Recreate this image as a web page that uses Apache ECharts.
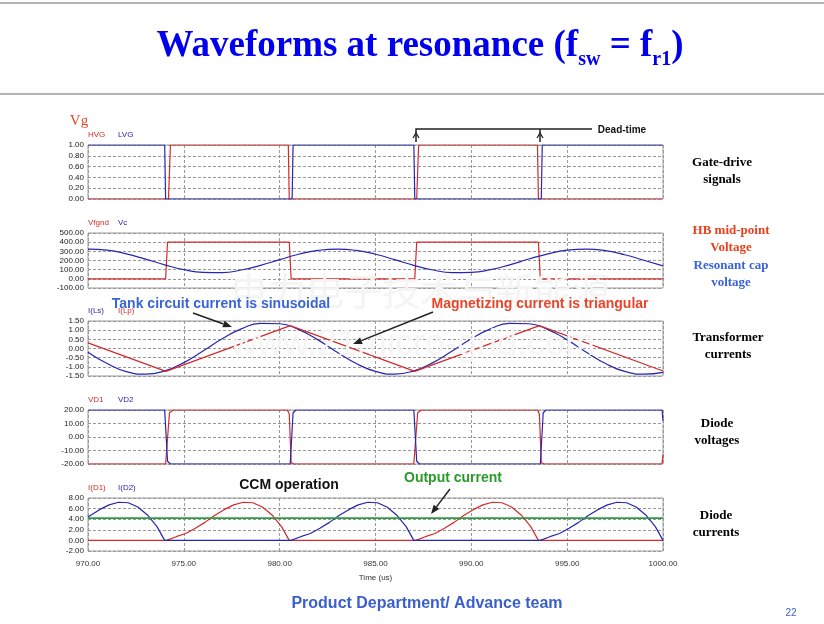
<!DOCTYPE html>
<html><head><meta charset="utf-8">
<script src="https://cdn.jsdelivr.net/npm/echarts/dist/echarts.min.js"></script>
<style>html,body{margin:0;padding:0;background:#fff}#c{width:824px;height:624px}</style>
</head><body><div id="c"></div>
<script>
// ---------- data ----------
const timeRange = [970, 1000];
const timeTicks = [970, 975, 980, 985, 990, 995, 1000];

// Gate-drive signals
const hvg = [[970,0],[974.2,0],[974.3,1],[980.45,1],[980.5,0],[987.15,0],[987.25,1],[993.45,1],[993.5,0],[1000,0]];
const lvg = [[970,1],[974.0,1],[974.05,0],[980.65,0],[980.7,1],[987.0,1],[987.05,0],[993.65,0],[993.7,1],[1000,1]];

// HB mid-point voltage and resonant cap voltage
const vfgnd = [[970,0],[974.05,0],[974.15,400],[980.5,400],[980.6,0],[987.05,0],[987.15,400],[993.5,400],[993.6,0],[1000,0]];
const sineTime = [970,971,972,973,974,975,976,977,978,979,980,981,982,983,984,985,986,987,988,989,990,991,992,993,994,995,996,997,998,999,1000];
const vc = [325,313,273,215,153,100,70,68,96,147,209,268,310,325,310,268,209,147,96,68,70,100,153,216,273,313,325,307,263,203,141];

// Transformer currents
const iLs = [-0.20,-0.82,-1.26,-1.40,-1.22,-0.77,-0.14,0.53,1.07,1.37,1.35,1.03,0.47,-0.20,-0.82,-1.25,-1.40,-1.22,-0.77,-0.14,0.53,1.07,1.37,1.35,1.03,0.47,-0.20,-0.82,-1.25,-1.40,-1.30];
const iLp = [[970,0.31],[974.07,-1.25],[980.55,1.25],[987.05,-1.25],[993.55,1.25],[1000,-1.23]];

// Diode voltages
const vd1 = [[970,-20],[974.05,-20],[974.25,18],[974.45,20],[980.4,20],[980.5,17],[980.6,-19],[980.75,-20],[987.0,-20],[987.2,18],[987.4,20],[993.45,20],[993.55,17],[993.65,-19],[993.8,-20],[999.95,-20],[1000,-13]];
const vd2 = [[970,20],[974.0,20],[974.15,-18],[974.3,-20],[980.55,-20],[980.7,18],[980.85,20],[987.0,20],[987.15,-18],[987.3,-20],[993.6,-20],[993.75,18],[993.9,20],[999.95,20],[1000,12]];

// Diode currents
const iD1 = [[970,0],[974.1,0],[974.6,0.7],[975.1,1.3],[975.6,2.3],[976.1,3.4],[976.6,4.7],[977.1,5.8],[977.6,6.7],[978.1,7.2],[978.6,7.1],[979.1,6.3],[979.6,4.8],[980.1,2.6],[980.5,0],
  [987.1,0],[987.6,0.7],[988.1,1.3],[988.6,2.3],[989.1,3.4],[989.6,4.7],[990.1,5.8],[990.6,6.7],[991.1,7.2],[991.6,7.1],[992.1,6.3],[992.6,4.8],[993.1,2.6],[993.5,0],[1000,0]];
const iD2 = [[970,4.4],[970.1,4.7],[970.6,5.8],[971.1,6.7],[971.6,7.2],[972.1,7.1],[972.6,6.3],[973.1,4.8],[973.6,2.6],[974.0,0],
  [980.6,0],[981.1,0.7],[981.6,1.3],[982.1,2.3],[982.6,3.4],[983.1,4.7],[983.6,5.8],[984.1,6.7],[984.6,7.2],[985.1,7.1],[985.6,6.3],[986.1,4.8],[986.6,2.6],[987.0,0],
  [993.6,0],[994.1,0.7],[994.6,1.3],[995.1,2.3],[995.6,3.4],[996.1,4.7],[996.6,5.8],[997.1,6.7],[997.6,7.2],[998.1,7.1],[998.6,6.3],[999.1,4.8],[999.6,2.6],[1000,0]];
const iOut = [[970,4.2],[1000,4.2]];

// Axis ranges per panel [min, max, interval]
const yRanges = [[0,1,0.2],[-100,500,100],[-1.5,1.5,0.5],[-20,20,10],[-2,8,2]];
const legendNames = [["HVG","LVG"],["Vfgnd","Vc"],["I(Ls)","I(Lp)"],["VD1","VD2"],["I(D1)","I(D2)"]];

// ---------- styling ----------
const RED = '#d42a2a', BLUE = '#2626b4', GREEN = '#2f9a44';
const legendColors = [[RED,BLUE],[RED,BLUE],[BLUE,RED],[RED,BLUE],[RED,BLUE]];
const panels = [{top:145,h:54},{top:233,h:55},{top:321,h:55},{top:410,h:54},{top:498,h:53}];
const LEFT = 88, RIGHT = 161;

const grids = panels.map(p => ({left:LEFT, right:RIGHT, top:p.top, height:p.h, show:true, borderColor:'#9a9a9a', borderWidth:1, backgroundColor:'rgba(0,0,0,0)'}));
const dashed = {show:true, lineStyle:{color:'#999', type:[3,2], width:1}};
const xAxes = panels.map((p,i) => ({
  type:'value', gridIndex:i, min:timeRange[0], max:timeRange[1], interval:5,
  axisLine:{show:false}, axisTick:{show:false}, splitLine:dashed,
  axisLabel:{show:i===4, fontSize:8, color:'#333', fontFamily:'Liberation Sans', margin:9, formatter:v=>v.toFixed(2)},
  name: i===4 ? 'Time (us)' : '', nameLocation:'middle', nameGap:23,
  nameTextStyle:{fontSize:8, color:'#333', fontFamily:'Liberation Sans'}
}));
const yAxes = yRanges.map((r,i) => ({
  type:'value', gridIndex:i, min:r[0], max:r[1], interval:r[2],
  axisLine:{show:false}, axisTick:{show:false}, splitLine:dashed,
  axisLabel:{fontSize:8, color:'#222', fontFamily:'Liberation Sans', margin:4, formatter:v=>v.toFixed(2)}
}));

function line(data, idx, color, w){
  return {type:'line', data, xAxisIndex:idx, yAxisIndex:idx, showSymbol:false, symbol:'none',
    lineStyle:{color, width:w||1.2}, itemStyle:{color}, animation:false, silent:true};
}
const zip = (xs, ys) => xs.map((x,k)=>[x, ys[k]]);
const series = [
  line(hvg,0,RED), line(lvg,0,BLUE),
  line(vfgnd,1,RED), Object.assign(line(zip(sineTime,vc),1,BLUE), {smooth:true}),
  Object.assign(line(zip(sineTime,iLs),2,BLUE), {smooth:true}), line(iLp,2,RED),
  line(vd1,3,RED), line(vd2,3,BLUE),
  line(iD1,4,RED), line(iD2,4,BLUE), line(iOut,4,GREEN,1.8)
];

// ---------- annotations ----------
function arrow(x1,y1,x2,y2){
  const a=Math.atan2(y2-y1,x2-x1), L=9, W=3.5;
  const bx=x2-L*Math.cos(a), by=y2-L*Math.sin(a), px=-Math.sin(a)*W, py=Math.cos(a)*W;
  return [
    {type:'line', shape:{x1,y1,x2:bx,y2:by}, style:{stroke:'#222', lineWidth:1.5}, z:10},
    {type:'polygon', shape:{points:[[x2,y2],[bx+px,by+py],[bx-px,by-py]]}, style:{fill:'#222'}, z:10}
  ];
}
function txt(x,y,text,o){
  return {type:'text', x, y, z:10, style:Object.assign({text, textAlign:'center', textVerticalAlign:'middle',
    fontFamily:'Liberation Sans', fontSize:12, fontWeight:'normal', fill:'#000'}, o||{})};
}
const serifB = {fontFamily:'Liberation Serif', fontWeight:'bold', fontSize:13};
const graphics = [
  {type:'line', shape:{x1:0,y1:3,x2:824,y2:3}, style:{stroke:'#9a9a9a', lineWidth:1.5}},
  {type:'line', shape:{x1:0,y1:94,x2:824,y2:94}, style:{stroke:'#9a9a9a', lineWidth:1.5}},
  // watermark
  txt(420,291,'电力电子技术与新能源',{fontFamily:'Noto Sans CJK SC', fontSize:38, fill:'#f4f4f4', z:0}),
  txt(413,345,'www.21micro-grid.com',{fontSize:36, fill:'#f5f5f5', z:0}),
  {type:'text', x:420, y:49, z:10, style:{
    text:'{a|Waveforms at resonance (f}{b|sw}{a| = f}{b|r1}{a|)}',
    textAlign:'center', textVerticalAlign:'middle',
    rich:{
      a:{fontFamily:'Liberation Serif', fontWeight:'bold', fontSize:37, fill:'#0000ee', lineHeight:42, verticalAlign:'top'},
      b:{fontFamily:'Liberation Serif', fontWeight:'bold', fontSize:20, fill:'#0000ee', lineHeight:14, verticalAlign:'bottom'}
    }}},
  txt(79,121,'Vg',{fontFamily:'Liberation Serif', fontSize:15, fill:'#e04a2a'}),
  // side labels
  txt(722,171,'Gate-drive\nsignals',Object.assign({lineHeight:17},serifB)),
  txt(731,239,'HB mid-point\nVoltage',Object.assign({lineHeight:17, fill:'#e8401c'},serifB)),
  txt(731,274,'Resonant cap\nvoltage',Object.assign({lineHeight:17, fill:'#3a62d8'},serifB)),
  txt(728,346,'Transformer\ncurrents',Object.assign({lineHeight:17},serifB)),
  txt(717,432,'Diode\nvoltages',Object.assign({lineHeight:17},serifB)),
  txt(716,524,'Diode\ncurrents',Object.assign({lineHeight:17},serifB)),
  // callouts
  txt(221,304,'Tank circuit current is sinusoidal',{fontWeight:'bold', fontSize:14, fill:'#3a64d8'}),
  txt(540,304,'Magnetizing current is triangular',{fontWeight:'bold', fontSize:14, fill:'#e8452a'}),
  txt(289,485,'CCM operation',{fontWeight:'bold', fontSize:14, fill:'#111'}),
  txt(453,478,'Output current',{fontWeight:'bold', fontSize:14, fill:'#2a9a2a'}),
  txt(622,130,'Dead-time',{fontWeight:'bold', fontSize:10, fill:'#111'}),
  txt(427,604,'Product Department/ Advance team',{fontWeight:'bold', fontSize:16, fill:'#3a5fcd'}),
  txt(791,613,'22',{fontSize:10, fill:'#3a5fcd'}),
  ...arrow(193,313,232,327),
  ...arrow(433,312,353,344),
  ...arrow(450,489,431,514),
  // dead-time bracket
  {type:'polyline', z:10, shape:{points:[[416,142],[416,129],[592,129]]}, style:{stroke:'#222', lineWidth:1.5, fill:null}},
  {type:'line', z:10, shape:{x1:540,y1:129,x2:540,y2:142}, style:{stroke:'#222', lineWidth:1.5}},
  {type:'polyline', z:10, shape:{points:[[413,138],[416,133],[419,138]]}, style:{stroke:'#222', lineWidth:1.3, fill:null}},
  {type:'polyline', z:10, shape:{points:[[537,138],[540,133],[543,138]]}, style:{stroke:'#222', lineWidth:1.3, fill:null}}
];
// legend labels above each panel
legendNames.forEach((names,i)=>{
  const y = panels[i].top - 10;
  graphics.push({type:'text', x:88, y, z:10, style:{text:names[0], textVerticalAlign:'middle', fontFamily:'Liberation Sans', fontSize:8, fill:legendColors[i][0]}});
  graphics.push({type:'text', x:118, y, z:10, style:{text:names[1], textVerticalAlign:'middle', fontFamily:'Liberation Sans', fontSize:8, fill:legendColors[i][1]}});
});

const chart = echarts.init(document.getElementById('c'), null, {renderer:'canvas'});
chart.setOption({
  backgroundColor:'#fff', animation:false,
  grid:grids, xAxis:xAxes, yAxis:yAxes, series, graphic:graphics
});
</script></body></html>
